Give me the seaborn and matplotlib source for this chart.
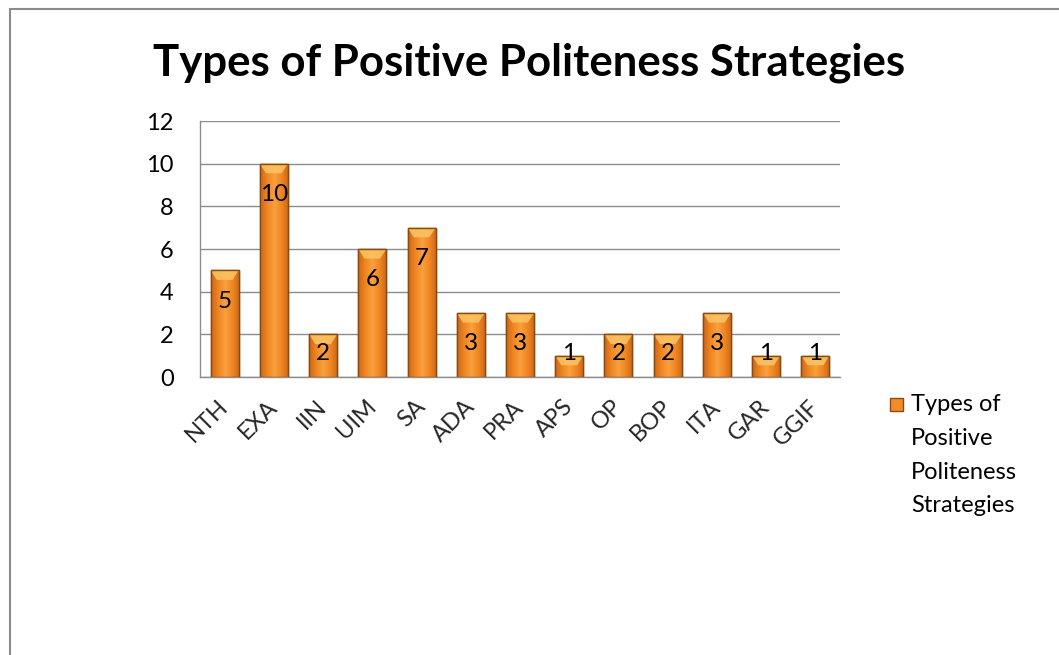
import numpy as np
import pandas as pd
import matplotlib
matplotlib.use("Agg")
import matplotlib.pyplot as plt
import matplotlib.transforms as mtransforms
from matplotlib.patches import Polygon, Rectangle
from matplotlib.colors import LinearSegmentedColormap
import seaborn as sns

categories = ["NTH", "EXA", "IIN", "UIM", "SA", "ADA", "PRA", "APS", "OP", "BOP", "ITA", "GAR", "GGIF"]
values = [5, 10, 2, 6, 7, 3, 3, 1, 2, 2, 3, 1, 1]
series_name = "Types of\nPositive\nPoliteness\nStrategies"
title = "Types of Positive Politeness Strategies"
y_ticks = [0, 2, 4, 6, 8, 10, 12]

sns.set_theme(style="white")
plt.rcParams["font.family"] = ["Lato", "DejaVu Sans"]

df = pd.DataFrame({"cat": categories, "val": values})

fig = plt.figure(figsize=(10.59, 6.55), dpi=100)
ax = fig.add_axes([200 / 1059, 1 - 377 / 655, 640 / 1059, 256 / 655])

sns.barplot(data=df, x="cat", y="val", color="#F28C28", width=0.57,
            edgecolor="#8A4A12", linewidth=1.0, ax=ax, zorder=3)

ax.set_ylim(0, 12)
ax.set_xlim(-0.5, len(categories) - 0.5)
ax.set_yticks(y_ticks)
ax.set_yticklabels([str(t) for t in y_ticks], fontsize=17, color="black")
ax.yaxis.grid(True, color="#8C8C8C", linewidth=1.0, zorder=0)
ax.xaxis.grid(False)
ax.set_xlabel("")
ax.set_ylabel("")
for s in ["top", "right"]:
    ax.spines[s].set_visible(False)
for s in ["left", "bottom"]:
    ax.spines[s].set_color("#8C8C8C")
    ax.spines[s].set_linewidth(1.0)
ax.tick_params(axis="y", length=0, pad=19)
ax.tick_params(axis="x", length=0)

# x tick labels rotated
ax.set_xticks(range(len(categories)))
ax.set_xticklabels(categories, fontsize=17, rotation=45, ha="right", va="top",
                   rotation_mode="anchor")
offset = mtransforms.ScaledTranslation(-7 / 100, -14 / 100, fig.dpi_scale_trans)
for lbl in ax.get_xticklabels():
    lbl.set_transform(lbl.get_transform() + offset)

# gradient fill & bevel on bars
cmap = LinearSegmentedColormap.from_list("org", ["#C8651A", "#F0861F", "#F9A040", "#F0861F", "#C8651A"])
grad = np.linspace(0, 1, 256).reshape(1, -1)
for p in list(ax.patches):
    x0, w, h = p.get_x(), p.get_width(), p.get_height()
    im = ax.imshow(grad, extent=(x0, x0 + w, 0, h), aspect="auto", cmap=cmap,
                   zorder=3.1, interpolation="bilinear")
    im.set_clip_path(p)
    bev = 0.45
    poly = Polygon([(x0, h), (x0 + w, h), (x0 + w * 0.78, h - bev), (x0 + w * 0.22, h - bev)],
                   closed=True, facecolor="#FBC260", edgecolor="none", zorder=3.2, alpha=0.9)
    ax.add_patch(poly)
    edge = Rectangle((x0, 0), w, h, facecolor="none", edgecolor="#8A4A12", linewidth=1.0, zorder=3.3)
    ax.add_patch(edge)

ax.set_xlim(-0.5, len(categories) - 0.5)
ax.set_ylim(0, 12)

# data labels
for i, v in enumerate(values):
    ax.text(i, max(v - 1.45, 1.12), str(v), ha="center", va="center", fontsize=17.5,
            color="black", zorder=5)

fig.text(0.5, 1 - 63 / 655, title, ha="center", va="center", fontsize=31.5,
         fontweight="bold", color="black")

# legend (marker aligned to first line, as in the reference)
fig.add_artist(Rectangle((890 / 1059, 1 - 411 / 655), 13 / 1059, 13 / 655,
                         transform=fig.transFigure, facecolor="#F28C28",
                         edgecolor="#8A4A12", linewidth=1.0))
fig.text(911 / 1059, 1 - 394 / 655, series_name, ha="left", va="top", fontsize=17,
         linespacing=1.75, color="black")

# outer frame (only top and left visible in reference)
fig.add_artist(plt.Line2D([10 / 1059, 10 / 1059], [0, 1 - 9 / 655], transform=fig.transFigure,
                          color="#8C8C8C", linewidth=1.5))
fig.add_artist(plt.Line2D([10 / 1059, 1], [1 - 9 / 655, 1 - 9 / 655], transform=fig.transFigure,
                          color="#8C8C8C", linewidth=1.5))

fig.savefig("out.png", dpi=100)
